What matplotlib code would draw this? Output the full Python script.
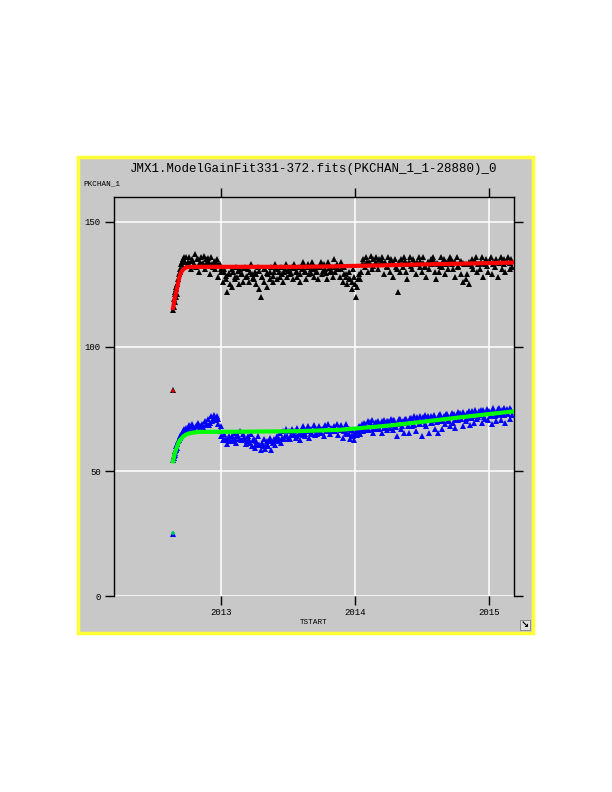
import numpy as np
import matplotlib.pyplot as plt
from matplotlib.patches import Rectangle

# time of each sample in days after the first TSTART (2012.638)
t0_year = 2012.638
days = [0, 2, 3, 4, 5, 6, 7, 8, 9, 10, 12, 14, 16, 18, 20, 22, 24, 26, 28, 30, 33, 36,
        40, 44, 48, 52, 56, 60, 64, 68, 72, 76,
        80, 84, 88, 92, 96, 100, 104, 108, 112, 116,
        120, 124, 128, 132, 136, 140, 144, 148, 152, 156,
        160, 164, 168, 172, 176, 180, 184, 188, 192, 196,
        200, 204, 208, 212, 216, 220, 224, 228, 232, 236,
        240, 244, 248, 252, 256, 260, 264, 268, 272, 276,
        280, 284, 288, 292, 296, 300, 304, 308, 312, 316,
        320, 324, 328, 332, 336, 340, 344, 348, 352, 356,
        360, 364, 368, 372, 376, 380, 384, 388, 392, 396,
        400, 404, 408, 412, 416, 420, 424, 428, 432, 436,
        440, 444, 448, 452, 456, 460, 464, 468, 472, 476,
        480, 484, 488, 492, 496, 500, 504, 508, 512, 516,
        520, 524, 528, 532, 536, 540, 544, 548, 552, 556,
        560, 564, 568, 572, 576, 580, 584, 588, 592, 596,
        600, 604, 608, 612, 616, 620, 624, 628, 632, 636,
        640, 644, 648, 652, 656, 660, 664, 668, 672, 676,
        680, 684, 688, 692, 696, 700, 704, 708, 712, 716,
        720, 724, 728, 732, 736, 740, 744, 748, 752, 756,
        760, 764, 768, 772, 776, 780, 784, 788, 792, 796,
        800, 804, 808, 812, 816, 820, 824, 828, 832, 836,
        840, 844, 848, 852, 856, 860, 864, 868, 872, 876,
        880, 884, 888, 892, 896, 900, 904, 908, 912, 916,
        920, 924, 928]

pk_black = [114.5, 116, 119, 121, 118, 122, 120, 123, 124, 121, 125, 127, 129, 130, 131, 133, 134, 132, 135, 136, 134, 136,
            134, 136, 131, 135, 133, 137, 132, 135, 130, 136,
            133, 136.5, 131, 134, 135.5, 129, 136, 132, 134, 131,
            135, 128, 133, 130, 126, 131, 127, 122, 129, 125,
            124, 130, 127, 132, 128, 125, 131, 129, 126, 132,
            128, 131, 126, 133, 129, 127, 130, 125, 132, 123,
            120, 128, 126, 131, 124, 129, 127, 132, 126, 130,
            133, 127, 131, 128, 132, 126, 130, 133, 128, 131,
            129, 132, 127, 133, 130, 128, 132, 126, 131, 134,
            130, 127, 133, 129, 131, 134, 128, 132, 130, 127,
            132, 134, 129, 133, 131, 127, 134, 130, 132, 128,
            135, 130, 133, 131, 128, 134, 126, 132, 129, 125,
            130, 127, 123, 131, 128, 120, 124, 129, 127, 133,
            135, 132, 136, 130, 134, 136.5, 131, 135, 133, 136,
            131, 135, 133, 136, 129, 134, 132, 136, 130, 135,
            128, 133, 135, 131, 122, 130, 135, 132, 136, 130,
            127, 134, 136, 131, 135, 133, 129, 134, 136, 132,
            130, 136, 132, 128, 134, 131, 135, 133, 136, 130,
            127, 133, 130, 136, 132, 135, 129, 134, 131, 136,
            135, 131, 134, 128, 136, 132, 134, 129, 126, 133,
            127, 129, 125, 133, 135, 131, 134, 136, 130, 133,
            131, 136, 128, 133, 135, 130, 134, 136, 129, 134,
            132, 135, 128, 134, 136, 131, 135, 130, 134, 136,
            131, 135, 132]

pk_blue = [54.5, 55.5, 56, 57.5, 56.5, 58, 59, 58.5, 60, 59.5, 61, 62, 62.5, 63.5, 64, 64.5, 65.5, 65, 66, 67, 66.5, 67.5,
           67, 68.5, 66, 69, 67.5, 66.5, 68, 69.5, 67, 68,
           69, 67, 70, 68.5, 71, 69.5, 72, 70.5, 72.5, 71,
           72, 69, 66, 64, 62.5, 65, 63, 61, 64, 62,
           64, 62, 65.5, 61.5, 64.5, 63, 66, 62.5, 65, 63,
           61, 64, 62.5, 65, 60, 63, 59.5, 62, 64, 60.5,
           58.5, 61, 63, 59, 62, 60, 63.5, 58.5, 61.5, 63,
           60.5, 64, 62, 65.5, 61.5, 66, 63, 67, 64, 66,
           63, 67, 64.5, 66, 63.5, 67.5, 65, 62.5, 66, 68,
           64, 66.5, 68, 63.5, 67, 65, 68.5, 64.5, 67, 66,
           68, 65.5, 67, 64, 68.5, 66, 69, 65, 67.5, 66,
           68, 66, 69, 64.5, 67.5, 68.5, 63.5, 67, 69, 65,
           67, 63, 66.5, 64, 62.5, 66, 64.5, 68, 65, 69,
           66, 69, 67.5, 70, 66.5, 68.5, 70.5, 65.5, 69.5, 67,
           70, 67.5, 69, 65.5, 70.5, 68, 66.5, 70, 68.5, 71,
           66.5, 70.5, 68, 64, 69, 71, 67, 70, 65.5, 71,
           69.5, 65.5, 71.5, 68, 70.5, 72, 66, 71, 69, 72,
           64, 70, 72.5, 68, 71, 65.5, 72, 69.5, 71.5, 67,
           70.5, 65.5, 72.5, 70, 67, 72, 69, 73, 70.5, 68,
           72, 69.5, 73, 67.5, 72.5, 70.5, 73.5, 71, 68, 72.5,
           70, 73.5, 71.5, 68.5, 74, 72, 69.5, 73, 71, 74,
           72.5, 69.5, 74.5, 71, 73.5, 70.5, 74, 72.5, 69, 74.5,
           72, 70, 75, 73, 70.5, 74.5, 72.5, 69.5, 75, 73,
           71, 74.5, 72.5]

# second reading on alternate days
days2 = [42, 50, 58, 66, 74, 82, 90, 98, 106, 114, 122, 130,
         138, 146, 154, 162, 170, 178, 186, 194, 202, 210,
         218, 226, 234, 242, 250, 258, 266, 274, 282, 290,
         298, 306, 314, 322, 330, 338, 346, 354, 362, 370,
         378, 386, 394, 402, 410, 418, 426, 434, 442, 450,
         458, 466, 474, 482, 490, 498, 506, 514,
         522, 530, 538, 546, 554, 562, 570, 578, 586, 594,
         602, 610, 618, 626, 634, 642, 650, 658, 666, 674,
         682, 690, 698, 706, 714, 722, 730, 738, 746, 754,
         762, 770, 778, 786, 794, 802, 810, 818, 826, 834,
         842, 850, 858, 866, 874, 882, 890, 898, 906, 914, 922]

pk_black2 = [133.5, 134.5, 133, 135, 134, 133.5, 135, 134, 133, 134.5, 133, 131,
             130, 128.5, 129.5, 131, 128, 130.5, 129, 131.5, 128.5, 130,
             127.5, 129, 130.5, 128, 131, 129.5, 130, 128.5, 131.5, 130,
             129, 131, 130.5, 129.5, 131.5, 130, 129, 131, 130.5, 132,
             129.5, 131, 130, 132, 130.5, 129.5, 131.5, 130, 132, 131,
             131, 129, 128, 127, 126, 125, 127, 130,
             133, 134, 133.5, 132.5, 134, 133, 134.5, 133, 132.5, 134,
             133.5, 132, 134, 133, 134.5, 133, 132.5, 134, 133, 134.5,
             133.5, 132.5, 134, 133, 134.5, 133.5, 132.5, 134, 133, 134.5,
             133, 134, 132.5, 134.5, 133.5, 133, 134, 132.5, 134.5, 133,
             134, 133.5, 132.5, 134.5, 133, 134, 133.5, 134.5, 133, 134, 133.5]

pk_blue2 = [67.5, 68, 67, 68.5, 68, 67.5, 69, 68.5, 70, 70.5, 71, 68,
            63, 62.5, 63.5, 62, 63, 64, 62.5, 63.5, 62, 61.5,
            62.5, 61, 60.5, 61.5, 60, 61, 62, 61.5, 62.5, 63,
            63.5, 64, 63, 64.5, 65, 64, 65.5, 64.5, 65, 66,
            65.5, 66.5, 65, 66, 67, 66, 66.5, 67, 66, 67,
            66.5, 66, 65.5, 65, 64.5, 65, 66, 67,
            69.5, 66.5, 69.6, 67, 69.8, 66.8, 70, 67.2, 70.3, 67.4,
            70.5, 67.7, 70.8, 68, 71.1, 68.3, 71.4, 68.6, 71.7, 68.8,
            71.9, 69.1, 72.3, 69.4, 72.5, 69.7, 72.8, 70, 73.1, 70.2,
            73.4, 70.5, 73.7, 70.8, 73.9, 71, 74.2, 71.3, 74.5, 71.6,
            74.7, 71.9, 75, 72.1, 75.2, 72.4, 75.3, 72.6, 75.4, 72.9, 75.5]

# fitted gain model
fit_days = [0, 5, 10, 15, 19, 24, 28, 36, 46, 68, 200, 342, 450, 470, 580, 600, 684, 800, 928]
fit_red = [115.5, 119.5, 122.7, 126.3, 128.8, 130.3, 131.0, 131.8, 132.0, 132.0, 132.0, 132.0,
           132.2, 132.3, 132.6, 132.7, 133.0, 133.3, 133.7]
fit_green = [54.0, 57.3, 59.5, 61.5, 62.5, 63.3, 64.0, 64.8, 65.3, 65.8, 65.9, 66.1,
             66.6, 66.8, 68.2, 68.5, 69.9, 71.9, 74.0]

# early outliers
out_days = [0.3]
out_black = [82.5]
out_blue = [24.8]
out_red = [82.3]
out_green = [25.2]

xticks = [2013, 2014, 2015]
yticks = [0, 50, 100, 150]


def to_year(d):
    return t0_year + np.asarray(d, dtype=float) / 365.25


plt.rcParams['font.family'] = ['Liberation Mono', 'DejaVu Sans Mono']
gray = '#c8c8c8'
ms = 5.0

fig = plt.figure(figsize=(6.12, 7.92), dpi=100)
fig.patches.append(Rectangle((78 / 612, 1 - 633 / 792), 455 / 612, 476 / 792,
                             transform=fig.transFigure, facecolor=gray,
                             edgecolor='#ffff33', linewidth=2.5, zorder=-1))

ax = fig.add_axes([114 / 612, 1 - 596 / 792, 400 / 612, 399 / 792])
ax.set_zorder(1)
ax.set_facecolor(gray)

ax.plot(to_year(days), pk_black, '^', color='black', ms=ms, mew=0, zorder=3)
ax.plot(to_year(days2), pk_black2, '^', color='black', ms=ms, mew=0, zorder=3)
ax.plot(to_year(days), pk_blue, '^', color='#0000ff', ms=ms, mew=0, zorder=3)
ax.plot(to_year(days2), pk_blue2, '^', color='#0000ff', ms=ms, mew=0, zorder=3)
ax.plot(to_year(out_days), out_black, '^', color='black', ms=ms, mew=0, zorder=3)
ax.plot(to_year(out_days), out_blue, '^', color='#0000ff', ms=ms, mew=0, zorder=3)

ax.plot(to_year(fit_days), fit_red, '-', color='#ff0000', lw=3.0, zorder=4)
ax.plot(to_year(fit_days), fit_green, '-', color='#00ff00', lw=3.0, zorder=4)
ax.plot(to_year(out_days), out_red, '+', color='#cc0000', ms=3.5, mew=1.2, zorder=4)
ax.plot(to_year(out_days), out_green, '+', color='#00cc66', ms=3.5, mew=1.2, zorder=4)

ax.set_xlim(2012.196, 2015.19)
ax.set_ylim(0, 160)
ax.set_xticks(xticks)
ax.set_xticklabels([str(v) for v in xticks])
ax.set_yticks(yticks)
ax.grid(True, color='white', lw=1.1)
ax.set_axisbelow(True)
for side in ['left', 'right', 'top']:
    ax.spines[side].set_linewidth(1.0)
ax.spines['bottom'].set_visible(False)
ax.tick_params(direction='out', length=6.5, width=1.0, top=True, right=True,
               labelsize=6.5, pad=2)
ax.tick_params(axis='y', pad=3)

ax.set_title('JMX1.ModelGainFit331-372.fits(PKCHAN_1_1-28880)_0',
             fontsize=9, pad=18)
fig.text(83 / 612, 1 - 184 / 792, 'PKCHAN_1', fontsize=5.5, va='center', ha='left')
fig.text(314 / 612, 1 - 622 / 792, 'TSTART', fontsize=5.5, va='center', ha='center')
fig.text(525 / 612, 1 - 625 / 792, '\u2198', fontsize=7, va='center', ha='center',
         family='DejaVu Sans', fontweight='bold',
         bbox=dict(boxstyle='square,pad=0.05', facecolor='#e0e0e0',
                   edgecolor='#808080', lw=0.6))

fig.savefig('out.png', dpi=100)
